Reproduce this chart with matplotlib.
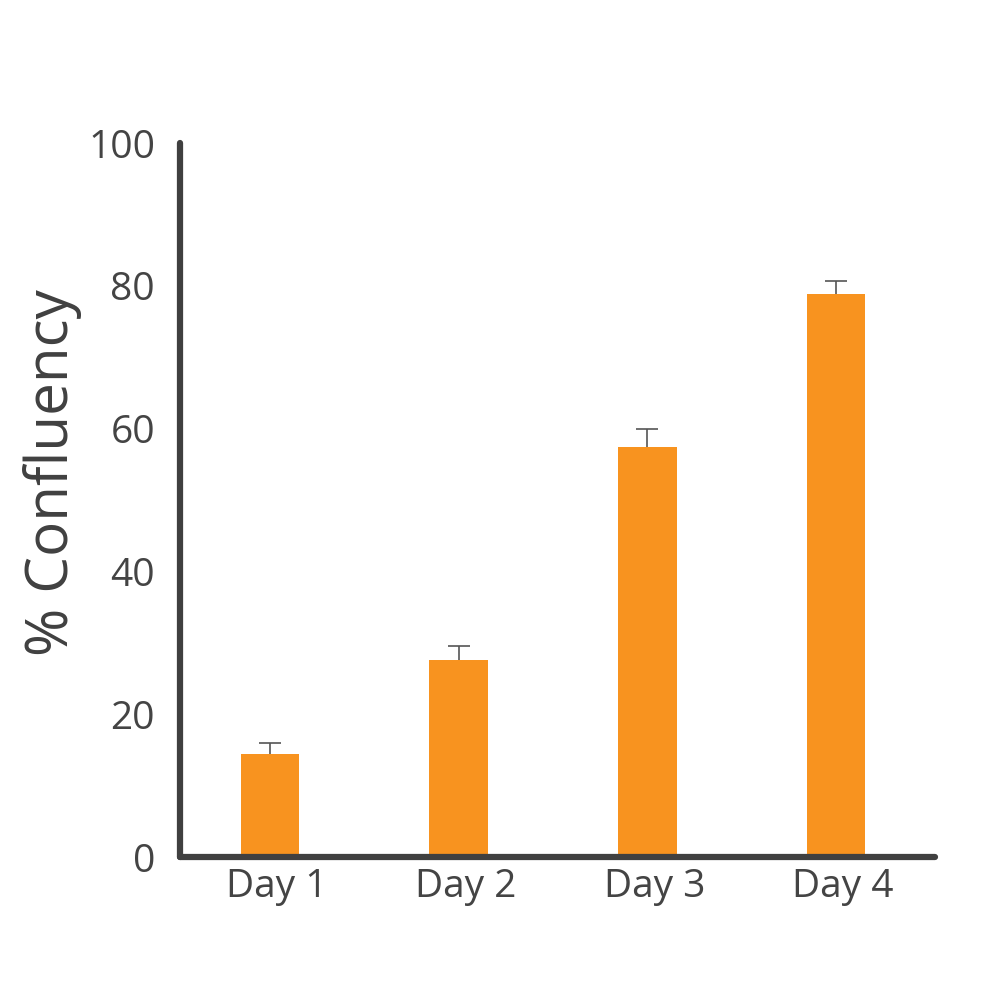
import matplotlib.pyplot as plt
from matplotlib.transforms import ScaledTranslation

plt.rcParams['font.family'] = ['Open Sans', 'DejaVu Sans']

days = ["Day 1", "Day 2", "Day 3", "Day 4"]
confluency = [14.4, 27.6, 57.4, 78.8]
err = [1.6, 1.9, 2.5, 1.9]

fig = plt.figure(figsize=(10, 10), dpi=100)
ax = fig.add_axes([0.18, 0.143, 0.755, 0.714])

x = list(range(len(days)))
ax.errorbar(x, confluency, yerr=err, fmt='none',
            ecolor='#555555', elinewidth=1.2, capsize=8, capthick=1.2, zorder=1)
ax.bar(x, confluency, width=0.31, color='#F8931F', zorder=2)

ax.set_xlim(-0.477, 3.525)
ax.set_ylim(0, 100)
ax.set_yticks([0, 20, 40, 60, 80, 100])
ax.set_xticks(x)
ax.set_xticklabels(days)

for s in ['top', 'right']:
    ax.spines[s].set_visible(False)
for s in ['left', 'bottom']:
    ax.spines[s].set_linewidth(4.5)
    ax.spines[s].set_color('#404040')
    ax.spines[s].set_capstyle('round')

ax.tick_params(axis='both', length=0, labelsize=28, colors='#444444')
ax.tick_params(axis='y', pad=18)
ax.tick_params(axis='x', pad=8)
# labels sit a little right of the bar centres in the original
off = ScaledTranslation(7/100, 0, fig.dpi_scale_trans)
for lab in ax.get_xticklabels():
    lab.set_transform(lab.get_transform() + off)

ax.set_ylabel("% Confluency", fontsize=42, color='#404040')
ax.yaxis.set_label_coords(-0.13, 0.539)

fig.savefig("out.png")
